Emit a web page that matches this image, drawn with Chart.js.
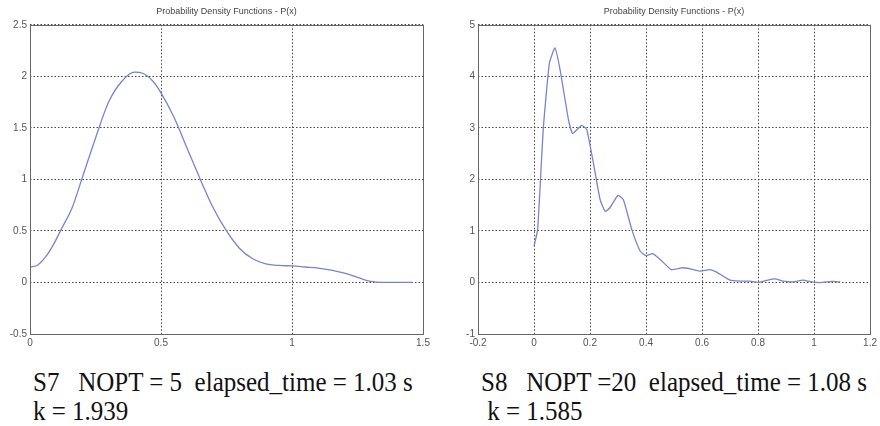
<!DOCTYPE html>
<html>
<head>
<meta charset="utf-8">
<script src="https://cdn.jsdelivr.net/npm/chart.js@4/dist/chart.umd.min.js"></script>
<style>
  body { margin: 0; background: #fff; width: 880px; height: 426px; overflow: hidden; position: relative; }
  .box { position: absolute; top: 0; width: 440px; height: 355px; }
  .cap {
    position: absolute; font-family: "Liberation Serif", "Times New Roman", serif;
    font-size: 25px; line-height: 26px; white-space: pre; color: #111;
    transform-origin: 0 0; transform: scaleY(1.12);
  }
</style>
</head>
<body>
<div class="box" style="left:0"><canvas id="s7"></canvas></div>
<div class="box" style="left:440px"><canvas id="s8"></canvas></div>
<div class="cap" style="left:33px; top:367px">S7   NOPT = 5  elapsed_time = 1.03 s
k = 1.939</div>
<div class="cap" style="left:481px; top:367px">S8   NOPT =20  elapsed_time = 1.08 s
 k = 1.585</div>
<script>
// S7 density
const s7X = [0, 0.03, 0.06, 0.09, 0.12, 0.16, 0.20, 0.25, 0.30, 0.35, 0.40, 0.43, 0.47, 0.50,
  0.55, 0.60, 0.65, 0.70, 0.75, 0.80, 0.85, 0.90, 0.95, 1.00, 1.05, 1.10, 1.15, 1.20, 1.25,
  1.30, 1.35, 1.40, 1.46];
const s7Y = [0.15, 0.17, 0.25, 0.37, 0.52, 0.72, 1.02, 1.40, 1.75, 1.95, 2.04, 2.03, 1.95, 1.84,
  1.60, 1.30, 1.00, 0.72, 0.50, 0.33, 0.23, 0.18, 0.165, 0.16, 0.15, 0.14, 0.12, 0.09, 0.05,
  0.01, 0, 0, 0];

// S8 density
const s8X = [0, 0.013, 0.033, 0.055, 0.075, 0.093, 0.123, 0.138, 0.17, 0.188, 0.212, 0.236,
  0.254, 0.271, 0.30, 0.319, 0.349, 0.379, 0.40, 0.424, 0.45, 0.49, 0.527, 0.557, 0.593,
  0.629, 0.652, 0.70, 0.736, 0.771, 0.80, 0.83, 0.86, 0.89, 0.926, 0.96, 0.998, 1.03,
  1.063, 1.093];
const s8Y = [0.70, 1.03, 2.97, 4.26, 4.55, 4.13, 3.16, 2.89, 3.05, 2.97, 2.32, 1.61,
  1.38, 1.45, 1.69, 1.61, 1.03, 0.61, 0.52, 0.56, 0.45, 0.25, 0.285, 0.265, 0.22,
  0.25, 0.20, 0.045, 0.025, 0.025, 0, 0.04, 0.07, 0.025, 0.01, 0.045, 0.005, 0,
  0.02, 0.01];

const s7XTicks = [0, 0.5, 1, 1.5];
const s7YTicks = [-0.5, 0, 0.5, 1, 1.5, 2, 2.5];
const s8XTicks = [-0.2, 0, 0.2, 0.4, 0.6, 0.8, 1, 1.2];
const s8YTicks = [-1, 0, 1, 2, 3, 4, 5];

const chartTitle = "Probability Density Functions - P(x)";

// matlab style box around the axes
const frame = {
  id: "frame",
  afterDraw(chart) {
    const { ctx, chartArea: a } = chart;
    ctx.save();
    ctx.strokeStyle = "#666";
    ctx.lineWidth = 1;
    ctx.strokeRect(Math.round(a.left) + 0.5, Math.round(a.top) + 0.5,
      Math.round(a.right - a.left), Math.round(a.bottom - a.top));
    ctx.restore();
  }
};

const tickFont = { family: "'Liberation Sans', Arial, sans-serif", size: 10 };

function axis(ticks, extra) {
  return Object.assign({
    type: "linear",
    min: ticks[0],
    max: ticks[ticks.length - 1],
    afterBuildTicks: (s) => { s.ticks = ticks.map((v) => ({ value: v })); },
    ticks: { color: "#555", font: tickFont, padding: 3, autoSkip: false, maxRotation: 0,
      callback: (v) => String(v) },
    grid: { color: "#444", lineWidth: 1, drawTicks: false },
    border: { display: false, dash: [1.5, 2] },
  }, extra);
}

function makeChart(id, xs, ys, xTicks, yTicks, yWidth, padRight, smooth) {
  const pts = xs.map((x, i) => ({ x: x, y: ys[i] }));
  const ds = {
    data: pts,
    borderColor: "#7a82d2",
    borderWidth: 1.3,
    pointRadius: 0,
    fill: false,
  };
  if (smooth) ds.cubicInterpolationMode = "monotone";
  else ds.tension = 0.15;
  return new Chart(document.getElementById(id), {
    type: "line",
    data: { datasets: [ds] },
    options: {
      responsive: true,
      maintainAspectRatio: false,
      animation: false,
      layout: { padding: { right: padRight, top: 0, left: 0, bottom: 0 } },
      plugins: {
        legend: { display: false },
        tooltip: { enabled: false },
        title: {
          display: true,
          text: chartTitle,
          fullSize: false,
          color: "#444",
          font: { family: "Arial, 'Liberation Sans', sans-serif", size: 9, weight: "normal" },
          padding: { top: 6, bottom: 8 },
        },
      },
      scales: {
        x: axis(xTicks, { afterFit: (s) => { s.height = 21; } }),
        y: axis(yTicks, { afterFit: (s) => { s.width = yWidth; } }),
      },
    },
    plugins: [frame],
  });
}

makeChart("s7", s7X, s7Y, s7XTicks, s7YTicks, 30, 17, true);
makeChart("s8", s8X, s8Y, s8XTicks, s8YTicks, 38, 9, false);
</script>
</body>
</html>
